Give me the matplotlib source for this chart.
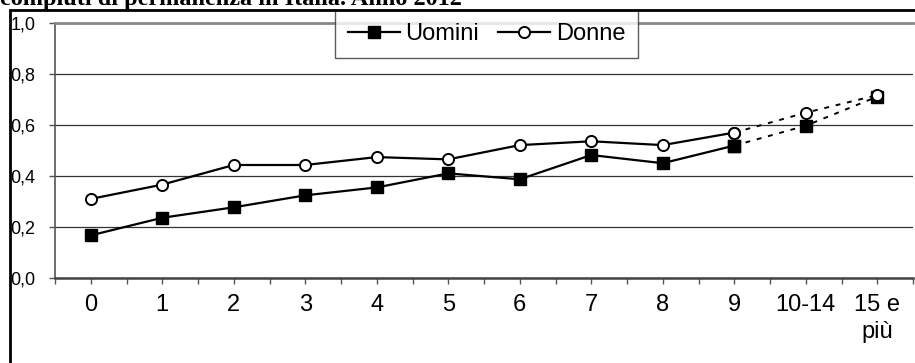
import matplotlib
matplotlib.use("Agg")
import matplotlib.pyplot as plt
from matplotlib.lines import Line2D
from matplotlib.patches import Rectangle
from matplotlib.ticker import FixedLocator

categories = ['0', '1', '2', '3', '4', '5', '6', '7', '8', '9', '10-14', '15 e\npiù']
uomini = [0.166, 0.235, 0.276, 0.323, 0.354, 0.409, 0.386, 0.481, 0.449, 0.518, 0.596, 0.710]
donne = [0.309, 0.365, 0.442, 0.442, 0.473, 0.464, 0.520, 0.535, 0.520, 0.569, 0.647, 0.716]
yticks = [0.0, 0.2, 0.4, 0.6, 0.8, 1.0]
title = "compiuti di permanenza in Italia. Anno 2012"

plt.rcParams['font.family'] = ['Liberation Sans', 'DejaVu Sans']

fig = plt.figure(figsize=(9.15, 3.63), dpi=100)
ax = fig.add_axes([55/915, 85.3/363, 858/915, 255/363])

x = list(range(len(categories)))
n_solid = 10  # single years 0..9 solid, grouped classes dashed

sq = dict(marker='s', markersize=8, markerfacecolor='black', markeredgecolor='black', color='black')
ci = dict(marker='o', markersize=8, markerfacecolor='white', markeredgecolor='black',
          markeredgewidth=1.4, color='black')

ax.plot(x[:n_solid], uomini[:n_solid], lw=1.6, zorder=3, **sq)
ax.plot(x[n_solid-1:], uomini[n_solid-1:], lw=1.4, ls=(0, (2.5, 3.5)), zorder=3, **sq)
ax.plot(x[:n_solid], donne[:n_solid], lw=1.6, zorder=4, **ci)
ax.plot(x[n_solid-1:], donne[n_solid-1:], lw=1.4, ls=(0, (2.5, 3.5)), zorder=4, **ci)

ax.set_xlim(-0.5, len(categories) - 0.5)
ax.set_ylim(0, 1.0)
ax.set_yticks(yticks)
ax.set_yticklabels([f"{v:.1f}".replace('.', ',') for v in yticks])
ax.set_xticks(x)
ax.set_xticklabels(categories, fontsize=17, linespacing=1.3)
ax.xaxis.set_minor_locator(FixedLocator([i - 0.5 for i in range(len(categories) + 1)]))
ax.tick_params(axis='y', labelsize=13, direction='out', length=4, width=1, color='#555555', pad=10)
ax.tick_params(axis='x', which='both', direction='out', length=4, width=1, color='#555555', pad=8)

ax.grid(axis='y', color='#333333', lw=0.9)
ax.set_axisbelow(True)
ax.spines['right'].set_visible(False)
ax.spines['top'].set_color('#888888')
ax.spines['top'].set_linewidth(2)
ax.spines['left'].set_color('#555555')
ax.spines['left'].set_linewidth(1.2)
ax.spines['bottom'].set_color('#444444')
ax.spines['bottom'].set_linewidth(1.8)

handles = [Line2D([], [], lw=1.6, **sq), Line2D([], [], lw=1.6, **ci)]
leg = fig.legend(handles, ['Uomini', 'Donne'], ncol=2, loc='upper center',
                 bbox_to_anchor=(486.5/915, 1 - 10/363), fontsize=17, frameon=True,
                 fancybox=False, handlelength=2.2, handletextpad=0.25, columnspacing=0.8,
                 borderpad=0.55, borderaxespad=0)
leg.get_frame().set_edgecolor('#333333')
leg.get_frame().set_linewidth(1)

# outer frame of the chart
fig.patches.append(Rectangle((10/915, -0.1), 1.2, 1 - 10/363 + 0.1, transform=fig.transFigure,
                             fill=False, edgecolor='black', lw=2, zorder=10))
fig.text(0, 1 - 5/363, title, fontsize=17.5, fontweight='bold', family='Liberation Serif',
         va='baseline', ha='left')

fig.savefig('out.png', dpi=100)
